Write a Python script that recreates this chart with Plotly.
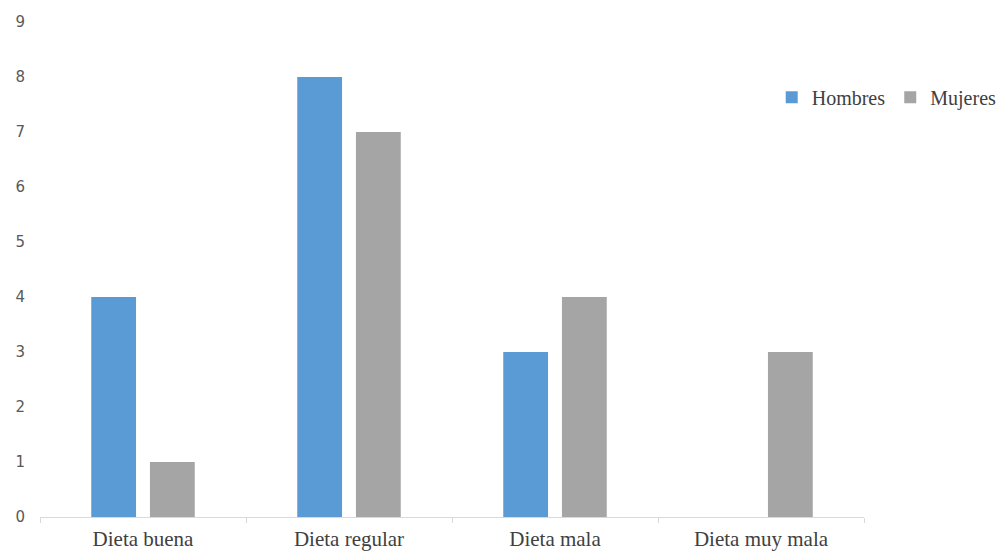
import plotly.graph_objects as go

categories = ["Dieta buena", "Dieta regular", "Dieta mala", "Dieta muy mala"]
hombres = [4, 8, 3, 0]
mujeres = [1, 7, 4, 3]
y_ticks = [0, 1, 2, 3, 4, 5, 6, 7, 8, 9]

serif = "Times New Roman, Liberation Serif, DejaVu Serif, serif"

fig = go.Figure()
fig.add_trace(go.Bar(name="Hombres", x=categories, y=hombres, marker_color="#5B9BD5", marker_line_width=0))
fig.add_trace(go.Bar(name="Mujeres", x=categories, y=mujeres, marker_color="#A5A5A5", marker_line_width=0))

fig.update_layout(
    width=998, height=553,
    margin=dict(l=40, r=134, t=22, b=36, autoexpand=False),
    paper_bgcolor="white", plot_bgcolor="white",
    barmode="group", bargap=0.43, bargroupgap=0.237,
    showlegend=True,
    legend=dict(orientation="h", x=0.888, xanchor="left", y=0.848, yanchor="middle",
                font=dict(family=serif, size=20, color="#404040"),
                itemwidth=30, tracegroupgap=0, bgcolor="rgba(0,0,0,0)"),
    font=dict(family=serif, color="#595959"),
)
fig.update_xaxes(
    showline=True, linecolor="#D9D9D9", linewidth=1,
    ticks="outside", tickson="boundaries", ticklen=5, tickcolor="#D9D9D9",
    tickfont=dict(family=serif, size=21, color="#404040"),
    ticklabelstandoff=3,
    showgrid=False,
)
fig.update_yaxes(
    range=[0, 9], tickvals=y_ticks, showgrid=False, zeroline=False, showline=False,
    tickfont=dict(family="DejaVu Sans", size=15, color="#595959"),
    ticklabelstandoff=14,
)
fig.write_html("out.html")
